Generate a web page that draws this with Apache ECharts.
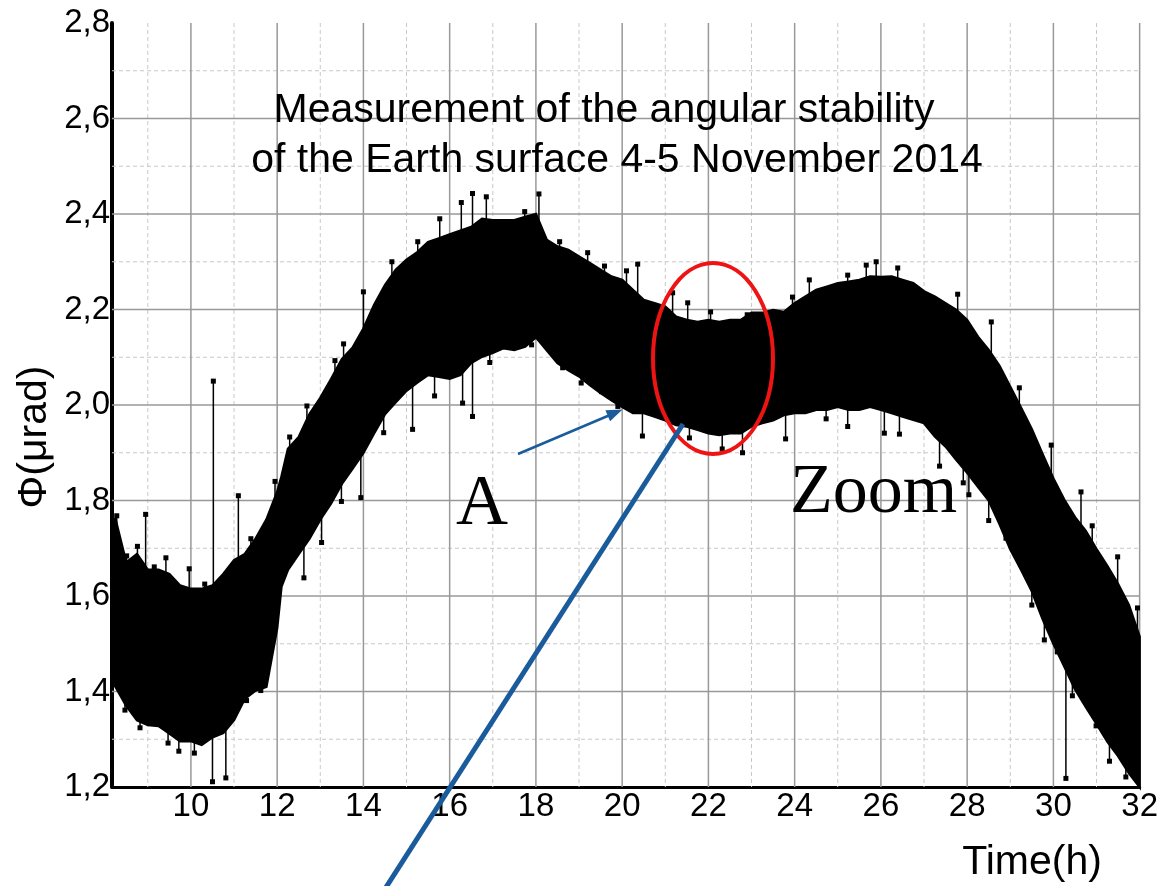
<!DOCTYPE html>
<html>
<head>
<meta charset="utf-8">
<script src="https://cdn.jsdelivr.net/npm/echarts@6/dist/echarts.min.js"></script>
<style>
  html, body { margin: 0; padding: 0; background: #fff; }
  #chart { width: 1161px; height: 886px; }
</style>
</head>
<body>
<div id="chart"></div>
<script>
const bandHours = [8.17, 8.25, 8.5, 8.75, 9, 9.25, 9.5, 9.75, 10, 10.25,
  10.5, 10.75, 11, 11.25, 11.5, 11.75, 12, 12.1, 12.25, 12.5,
  12.75, 13, 13.25, 13.5, 13.75, 14, 14.25, 14.5, 14.75, 15,
  15.25, 15.5, 15.75, 16, 16.25, 16.5, 16.75, 17, 17.25, 17.5,
  17.75, 18, 18.25, 18.5, 18.75, 19, 19.25, 19.5, 19.75, 20,
  20.25, 20.5, 20.75, 21, 21.25, 21.5, 21.75, 22, 22.25, 22.5,
  22.75, 23, 23.25, 23.5, 23.75, 24, 24.25, 24.5, 24.75, 25,
  25.25, 25.5, 25.75, 26, 26.25, 26.5, 26.75, 27, 27.25, 27.5,
  27.75, 28, 28.25, 28.5, 28.75, 29, 29.25, 29.5, 29.75, 30,
  30.25, 30.5, 30.75, 31, 31.25, 31.5, 31.75, 32];
const bandUpper = [1.76, 1.761, 1.67, 1.688, 1.655, 1.655, 1.646, 1.622, 1.615, 1.615,
  1.622, 1.646, 1.675, 1.688, 1.72, 1.76, 1.818, 1.85, 1.908, 1.933,
  1.981, 2.015, 2.054, 2.096, 2.12, 2.16, 2.21, 2.251, 2.283, 2.304,
  2.32, 2.341, 2.349, 2.357, 2.365, 2.373, 2.39, 2.387, 2.387, 2.387,
  2.394, 2.40, 2.346, 2.332, 2.325, 2.311, 2.297, 2.283, 2.269, 2.262,
  2.241, 2.22, 2.213, 2.206, 2.185, 2.178, 2.174, 2.178, 2.174, 2.178,
  2.178, 2.193, 2.193, 2.199, 2.195, 2.213, 2.227, 2.241, 2.248, 2.255,
  2.258, 2.262, 2.269, 2.268, 2.269, 2.262, 2.255, 2.238, 2.227, 2.213,
  2.199, 2.178, 2.143, 2.115, 2.082, 2.038, 1.994, 1.949, 1.897, 1.846,
  1.802, 1.765, 1.736, 1.698, 1.663, 1.625, 1.581, 1.515];
const bandLower = [1.42, 1.41, 1.37, 1.34, 1.33, 1.328, 1.312, 1.296, 1.296, 1.288,
  1.304, 1.313, 1.34, 1.385, 1.402, 1.41, 1.533, 1.62, 1.655, 1.688,
  1.72, 1.76, 1.794, 1.835, 1.867, 1.90, 1.941, 1.981, 2.006, 2.03,
  2.047, 2.063, 2.059, 2.055, 2.063, 2.088, 2.101, 2.109, 2.119, 2.115,
  2.122, 2.142, 2.115, 2.088, 2.073, 2.06, 2.042, 2.025, 2.01, 1.996,
  1.983, 1.983, 1.976, 1.968, 1.958, 1.955, 1.948, 1.941, 1.937, 1.941,
  1.941, 1.955, 1.962, 1.968, 1.979, 1.983, 1.983, 1.99, 1.99, 1.996,
  1.99, 1.99, 1.996, 1.99, 1.983, 1.976, 1.969, 1.962, 1.934, 1.913,
  1.885, 1.858, 1.829, 1.80, 1.751, 1.698, 1.655, 1.61, 1.552, 1.50,
  1.453, 1.405, 1.368, 1.332, 1.295, 1.265, 1.229, 1.20];

// isolated outliers sticking out of the band
const spikeHours = [8.28, 8.51, 8.76, 8.95, 9.15, 9.42, 9.96, 10.32, 10.52, 11.1, 11.39, 11.95, 12.29, 12.69, 13.34, 13.54, 14.0, 14.66, 15.26, 15.77,
  16.27, 16.53, 16.85, 17.74, 18.07, 18.55, 19.2, 19.59, 20.1, 20.36, 21.17, 21.52, 22.05, 22.9, 23.95, 24.34, 25.23, 25.66, 25.89, 26.39,
  27.78, 28.56, 29.21, 29.95, 30.64, 30.9, 31.49, 31.95,
  8.47, 8.82, 9.47, 9.72, 10.08, 10.5, 10.81, 11.29, 11.62, 12.62, 13.03, 13.49, 13.94, 14.47, 15.14, 15.65, 16.3, 16.53, 16.93, 17.9,
  18.62, 19.05, 19.52, 19.9, 20.47, 21.56, 22.32, 22.79, 23.79, 24.73, 25.23, 26.08, 26.43, 27.36, 27.91, 28.04, 28.5, 28.9, 29.5, 29.79,
  30.09, 30.29, 30.44, 30.99, 31.3, 31.68];
const spikeTips = [1.768, 1.684, 1.704, 1.771, 1.661, 1.68, 1.657, 1.625, 2.05, 1.81, 1.72, 1.84, 1.933, 1.998, 2.093, 2.128, 2.237, 2.30, 2.342, 2.39,
  2.424, 2.443, 2.436, 2.405, 2.442, 2.342, 2.319, 2.291, 2.281, 2.295, 2.235, 2.214, 2.195, 2.189, 2.226, 2.262, 2.272, 2.293, 2.30, 2.287,
  2.232, 2.174, 2.036, 1.916, 1.818, 1.747, 1.682, 1.575,
  1.361, 1.324, 1.292, 1.275, 1.271, 1.211, 1.219, 1.381, 1.402, 1.638, 1.712, 1.798, 1.806, 1.942, 1.949, 2.019, 2.004, 1.976, 2.089, 2.126,
  2.078, 2.046, 2.028, 1.997, 1.935, 1.931, 1.908, 1.90, 1.929, 1.971, 1.955, 1.941, 1.939, 1.872, 1.837, 1.812, 1.758, 1.721, 1.581, 1.508,
  1.483, 1.218, 1.391, 1.328, 1.254, 1.221];

// axes and grid
const xMin = 8.17;
const xMax = 32;
const xLabels = [10, 12, 14, 16, 18, 20, 22, 24, 26, 28, 30, 32];
const xMinorLines = [9, 11, 13, 15, 17, 19, 21, 23, 25, 27, 29, 31];
const yMajorLines = [1.4, 1.6, 1.8, 2.0, 2.2, 2.4, 2.6];
const yMinorLines = [1.3, 1.5, 1.7, 1.9, 2.1, 2.3, 2.5, 2.7];

const FONT = '"Liberation Sans", Arial, sans-serif';
const SERIF = '"Liberation Serif", "Times New Roman", serif';
const BLUE = '#1a5b9c';

function gridLines(values, vertical, style) {
  return {
    type: 'custom',
    silent: true,
    z: 1,
    data: values.map(v => vertical ? [v, 2] : [20, v]),
    renderItem(params, api) {
      const cs = params.coordSys;
      const p = api.coord([api.value(0), api.value(1)]);
      const shape = vertical
        ? { x1: p[0], y1: cs.y, x2: p[0], y2: cs.y + cs.height }
        : { x1: cs.x, y1: p[1], x2: cs.x + cs.width, y2: p[1] };
      return { type: 'line', shape: shape, style: Object.assign({}, style) };
    }
  };
}

function nearestIdx(h) {
  let best = 0;
  bandHours.forEach((bh, i) => {
    if (Math.abs(bh - h) < Math.abs(bandHours[best] - h)) best = i;
  });
  return best;
}

const chart = echarts.init(document.getElementById('chart'));

chart.setOption({
  animation: false,
  backgroundColor: '#fff',
  grid: { left: 112, right: 20, top: 23, bottom: 99 },
  xAxis: {
    type: 'value',
    min: xMin,
    max: xMax,
    axisLine: { show: true, onZero: false, lineStyle: { color: '#000', width: 3 } },
    axisTick: { show: false },
    splitLine: { show: false },
    axisLabel: {
      customValues: xLabels,
      fontSize: 33, color: '#000', fontFamily: FONT, margin: 3
    }
  },
  yAxis: {
    type: 'value',
    min: 1.2,
    max: 2.8,
    interval: 0.2,
    axisLine: { show: true, onZero: false, lineStyle: { color: '#000', width: 4 } },
    axisTick: { show: false },
    splitLine: { show: false },
    axisLabel: {
      fontSize: 33, color: '#000', fontFamily: FONT, margin: 2,
      formatter: v => v.toFixed(1).replace('.', ',')
    }
  },
  series: [
    gridLines(xMinorLines, true, { stroke: '#c8c8c8', lineWidth: 1, lineDash: [4, 3] }),
    gridLines(yMinorLines, false, { stroke: '#c8c8c8', lineWidth: 1, lineDash: [4, 3] }),
    gridLines(xLabels, true, { stroke: '#999', lineWidth: 1.5 }),
    gridLines(yMajorLines, false, { stroke: '#999', lineWidth: 1.5 }),
    {
      type: 'custom',
      name: 'band',
      z: 3,
      silent: true,
      data: [[bandHours[0], bandUpper[0]]],
      renderItem(params, api) {
        const pts = [];
        bandHours.forEach((h, i) => pts.push(api.coord([h, bandUpper[i]])));
        for (let i = bandHours.length - 1; i >= 0; i--) pts.push(api.coord([bandHours[i], bandLower[i]]));
        return { type: 'polygon', shape: { points: pts }, style: { fill: '#000', stroke: '#000', lineWidth: 2.5, lineJoin: 'miter' } };
      }
    },
    {
      type: 'custom',
      name: 'spikes',
      z: 4,
      silent: true,
      data: spikeHours.map((h, i) => [h, spikeTips[i]]),
      renderItem(params, api) {
        const h = api.value(0);
        const k = nearestIdx(h);
        const mid = (bandUpper[k] + bandLower[k]) / 2;
        const a = api.coord([h, mid]);
        const b = api.coord([h, api.value(1)]);
        return {
          type: 'group',
          children: [
            { type: 'line', shape: { x1: a[0], y1: a[1], x2: b[0], y2: b[1] }, style: { stroke: '#000', lineWidth: 1.5 } },
            { type: 'rect', shape: { x: b[0] - 2.5, y: b[1] - 2.5, width: 5, height: 5 }, style: { fill: '#000' } }
          ]
        };
      }
    }
  ],
  graphic: [
    { type: 'text', z: 10, style: { text: 'Measurement of the angular stability', x: 604, y: 111, font: '41px ' + FONT, fill: '#000', textAlign: 'center', textVerticalAlign: 'middle' } },
    { type: 'text', z: 10, style: { text: 'of the Earth surface 4-5 November 2014', x: 617, y: 161, font: '41px ' + FONT, fill: '#000', textAlign: 'center', textVerticalAlign: 'middle' } },
    { type: 'text', z: 10, style: { text: 'Time(h)', x: 1032, y: 863, font: '41px ' + FONT, fill: '#000', textAlign: 'center', textVerticalAlign: 'middle' } },
    { type: 'text', z: 10, x: 35, y: 437, rotation: Math.PI / 2, style: { text: 'Φ(μrad)', x: 0, y: 0, font: '41px ' + FONT, fill: '#000', textAlign: 'center', textVerticalAlign: 'middle' } },
    { type: 'text', z: 10, style: { text: 'A', x: 482, y: 505, font: '72px ' + SERIF, fill: '#000', textAlign: 'center', textVerticalAlign: 'middle' } },
    { type: 'text', z: 10, style: { text: 'Zoom', x: 790, y: 494, font: '70px ' + SERIF, fill: '#000', textAlign: 'left', textVerticalAlign: 'middle' } },
    { type: 'ellipse', z: 10, shape: { cx: 713, cy: 358.5, rx: 60, ry: 95.5 }, style: { fill: 'none', stroke: '#ee1414', lineWidth: 4 } },
    { type: 'line', z: 10, shape: { x1: 518, y1: 454, x2: 610, y2: 415 }, style: { stroke: BLUE, lineWidth: 2.5 } },
    { type: 'polygon', z: 10, shape: { points: [[622.5, 409.5], [610.1, 421.3], [605.4, 410.3]] }, style: { fill: BLUE } },
    { type: 'line', z: 10, shape: { x1: 383, y1: 892, x2: 683, y2: 424 }, style: { stroke: BLUE, lineWidth: 5 } }
  ]
});
</script>
</body>
</html>
